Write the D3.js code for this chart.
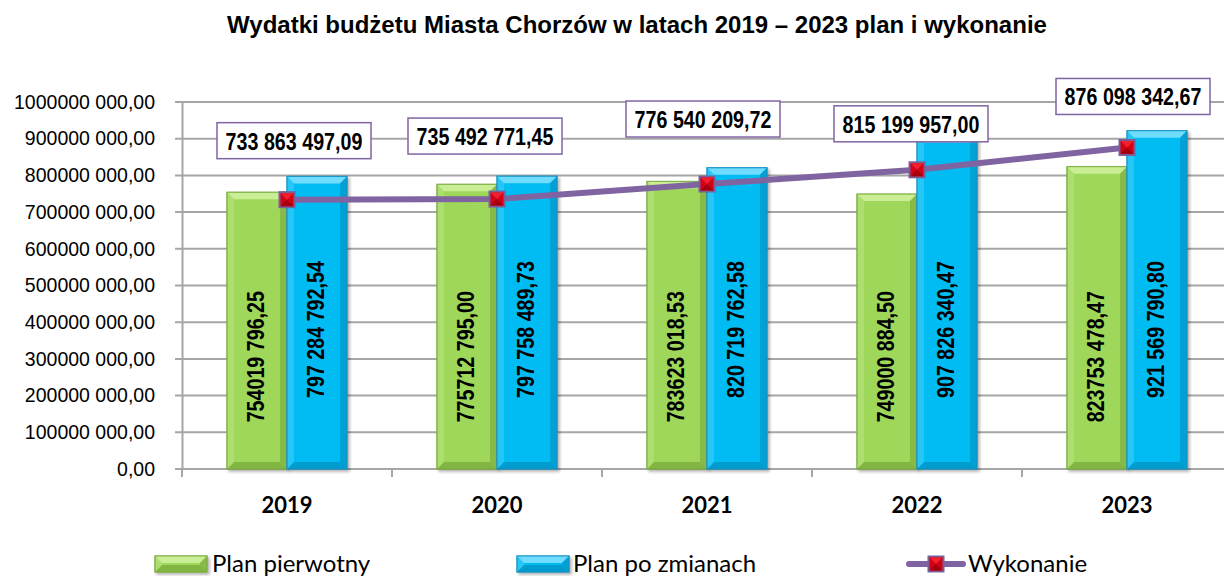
<!DOCTYPE html>
<html>
<head>
<meta charset="utf-8">
<script src="https://cdn.jsdelivr.net/npm/d3@7"></script>
<style>
  body { margin: 0; background: #fff; }
  svg { display: block; }
  .narrow { font-family: "Liberation Sans", Arial, sans-serif; font-weight: bold; }
</style>
</head>
<body>
<div id="chart_box"></div>
<script>

// data
var years = ["2019", "2020", "2021", "2022", "2023"];
var planPierwotny = [754019796.25, 775712795.00, 783623018.53, 749000884.50, 823753478.47];
var planZmiany = [797284792.54, 797758489.73, 820719762.58, 907826340.47, 921569790.80];
var wykonanie = [733863497.09, 735492771.45, 776540209.72, 815199957.00, 876098342.67];
var yTicks = [0, 1e8, 2e8, 3e8, 4e8, 5e8, 6e8, 7e8, 8e8, 9e8, 1e9];
var seriesNames = ["Plan pierwotny", "Plan po zmianach", "Wykonanie"];

// label boxes were dragged by hand in the original, nudge them a bit
var boxNudge = [[7, -59], [-12, -63], [-4, -65], [-6, -46], [6, -51]];

var W = 1224, H = 578;
var plotL = 182, plotR = 1232, plotT = 102, plotB = 469;
var squeeze = 0.82;   // no arial narrow here, so squash the bold face

var svg = d3.select("#chart_box").append("svg")
    .attr("width", W)
    .attr("height", H);

var defs = svg.append("defs");
var shadow = defs.append("filter").attr("id", "shadow")
    .attr("x", "-20%").attr("y", "-20%").attr("width", "140%").attr("height", "140%");
shadow.append("feDropShadow").attr("dx", 2).attr("dy", 2).attr("stdDeviation", 1.5)
    .attr("flood-color", "#000").attr("flood-opacity", 0.3);

var x = d3.scaleBand().domain(years).range([plotL, plotR])
    .paddingInner(90 / 210).paddingOuter(45 / 210);
var xSub = d3.scaleBand().domain([0, 1]).range([0, x.bandwidth()]);
var y = d3.scaleLinear().domain([0, 1e9]).range([plotB, plotT]);

// 754019796.25 -> "754019 796,25"   (only the last group split)
function fmtPlan(v) {
  var s = v.toFixed(2).split(".");
  var i = s[0];
  if (i.length > 3) i = i.slice(0, -3) + " " + i.slice(-3);
  return i + "," + s[1];
}
// 797284792.54 -> "797 284 792,54"
function fmtFull(v) {
  var s = v.toFixed(2).split(".");
  return s[0].replace(/\B(?=(\d{3})+(?!\d))/g, " ") + "," + s[1];
}

// title
svg.append("text")
    .attr("x", 637).attr("y", 33)
    .attr("text-anchor", "middle")
    .style("font-family", "'Liberation Sans', Arial, sans-serif")
    .style("font-weight", "bold")
    .style("font-size", "24px")
    .text("Wydatki budżetu Miasta Chorzów w latach 2019 – 2023 plan i wykonanie");

// grid
svg.append("g").selectAll("line").data(yTicks).enter().append("line")
    .attr("x1", plotL - 7).attr("x2", W)
    .attr("y1", function(d) { return y(d); })
    .attr("y2", function(d) { return y(d); })
    .style("stroke", "#a6a6a6").style("stroke-width", 2);

// y axis
var yAxis = svg.append("g").attr("transform", "translate(" + plotL + ",0)")
    .call(d3.axisLeft(y).tickValues(yTicks).tickFormat(fmtPlan).tickSize(0).tickPadding(27));
yAxis.select(".domain").style("stroke", "#a6a6a6").style("stroke-width", 2);
yAxis.selectAll("text")
    .style("font-family", "'Liberation Sans', Arial, sans-serif")
    .style("font-size", "19.5px")
    .style("fill", "#000");

// x axis
var xAxis = svg.append("g").attr("transform", "translate(0," + plotB + ")");
xAxis.append("line").attr("x1", plotL).attr("x2", W).attr("y1", 0).attr("y2", 0)
    .style("stroke", "#a6a6a6").style("stroke-width", 2);
xAxis.selectAll(".tk").data(years).enter().append("line").attr("class", "tk")
    .attr("x1", function(d) { return x(d) - x.step() * 45 / 210; })
    .attr("x2", function(d) { return x(d) - x.step() * 45 / 210; })
    .attr("y1", 0).attr("y2", 8)
    .style("stroke", "#a6a6a6").style("stroke-width", 2);
xAxis.selectAll(".lbl").data(years).enter().append("text").attr("class", "lbl")
    .attr("x", function(d) { return x(d) + x.bandwidth() / 2; })
    .attr("y", 44)
    .attr("text-anchor", "middle")
    .style("font-family", "Lato, 'Open Sans', sans-serif")
    .style("font-weight", "bold")
    .style("font-size", "22px")
    .text(function(d) { return d; });

// beveled bar, the look of the old excel preset
function bevelBar(g, bx, by, bw, bh, c) {
  var b = 7;
  var grp = g.append("g").attr("filter", "url(#shadow)");
  grp.append("rect").attr("x", bx).attr("y", by).attr("width", bw).attr("height", bh)
      .style("fill", c.base).style("stroke", c.edge).style("stroke-width", 1);
  grp.append("path").attr("d", "M" + bx + "," + by + "L" + (bx + bw) + "," + by + "L" + (bx + bw - b) + "," + (by + b) + "L" + (bx + b) + "," + (by + b) + "Z")
      .style("fill", c.light);
  grp.append("path").attr("d", "M" + (bx + bw) + "," + by + "L" + (bx + bw) + "," + (by + bh) + "L" + (bx + bw - b) + "," + (by + bh - b) + "L" + (bx + bw - b) + "," + (by + b) + "Z")
      .style("fill", c.dark).style("opacity", 0.5);
  grp.append("path").attr("d", "M" + bx + "," + (by + bh) + "L" + (bx + bw) + "," + (by + bh) + "L" + (bx + bw - b) + "," + (by + bh - b) + "L" + (bx + b) + "," + (by + bh - b) + "Z")
      .style("fill", c.dark).style("opacity", 0.6);
  grp.append("path").attr("d", "M" + bx + "," + by + "L" + bx + "," + (by + bh) + "L" + (bx + b) + "," + (by + bh - b) + "L" + (bx + b) + "," + (by + b) + "Z")
      .style("fill", c.light).style("opacity", 0.35);
  grp.append("rect").attr("x", bx).attr("y", by).attr("width", bw).attr("height", bh)
      .style("fill", "none").style("stroke", c.edge).style("stroke-width", 1);
}

var green = { base: "#9fd75a", light: "#c9ee96", dark: "#6f9e32", edge: "#7fae45" };
var blue = { base: "#00bcf2", light: "#6fdcff", dark: "#0086b8", edge: "#1a95c4" };

var bars = svg.append("g");
years.forEach(function(yr, i) {
  var x0 = x(yr);
  bevelBar(bars, x0 + xSub(0), y(planPierwotny[i]), xSub.bandwidth(), plotB - y(planPierwotny[i]), green);
  bevelBar(bars, x0 + xSub(1), y(planZmiany[i]), xSub.bandwidth(), plotB - y(planZmiany[i]), blue);
});

// values written inside the bars
var inBar = svg.append("g").attr("class", "narrow").style("font-size", "24px");
inBar.selectAll(".g").data(planPierwotny).enter().append("text")
    .attr("transform", function(d, i) {
      return "translate(" + (x(years[i]) + xSub(0) + xSub.bandwidth() / 2 + 7) + "," + y(306e6) + ") rotate(-90) scale(" + squeeze + ",1)";
    })
    .attr("text-anchor", "middle")
    .text(fmtPlan);
inBar.selectAll(".b").data(planZmiany).enter().append("text")
    .attr("transform", function(d, i) {
      return "translate(" + (x(years[i]) + xSub(1) + xSub.bandwidth() / 2 + 7) + "," + y(380e6) + ") rotate(-90) scale(" + squeeze + ",1)";
    })
    .attr("text-anchor", "middle")
    .text(fmtFull);

// wykonanie line
var cx = function(i) { return x(years[i]) + x.bandwidth() / 2; };
var line = d3.line().x(function(d, i) { return cx(i); }).y(function(d) { return y(d); });
svg.append("path").datum(wykonanie)
    .attr("d", line)
    .style("fill", "none").style("stroke", "#8064a2").style("stroke-width", 6);

function marker(g, mx, my) {
  var s = 7.5;
  g.append("rect").attr("x", mx - s).attr("y", my - s).attr("width", 2 * s).attr("height", 2 * s)
      .style("fill", "#d40014").style("stroke", "#7a5f99").style("stroke-width", 2);
  g.append("path").attr("d", "M" + (mx - s + 1) + "," + (my - s + 1) + "L" + mx + "," + my + "L" + (mx + s - 1) + "," + (my - s + 1) + "Z")
      .style("fill", "#f0202c");
  g.append("path").attr("d", "M" + (mx - s + 1) + "," + (my + s - 1) + "L" + mx + "," + my + "L" + (mx + s - 1) + "," + (my + s - 1) + "Z")
      .style("fill", "#a3000f");
}
var marks = svg.append("g");
wykonanie.forEach(function(v, i) { marker(marks, cx(i), y(v)); });

// boxed value labels
var boxes = svg.append("g");
wykonanie.forEach(function(v, i) {
  var bx = cx(i) + boxNudge[i][0], by = y(v) + boxNudge[i][1];
  boxes.append("rect")
      .attr("x", bx - 77).attr("y", by - 18).attr("width", 154).attr("height", 36)
      .style("fill", "#fff").style("stroke", "#8064a2").style("stroke-width", 1.5);
  boxes.append("text").attr("class", "narrow")
      .attr("transform", "translate(" + bx + "," + (by + 9) + ") scale(" + squeeze + ",1)")
      .attr("text-anchor", "middle")
      .style("font-size", "24px")
      .text(fmtFull(v));
});

// legend
var legend = svg.append("g").style("font-family", "Lato, 'Open Sans', sans-serif").style("font-size", "24px");
bevelBar(legend, 155, 556, 52, 16, green);
legend.append("text").attr("x", 212).attr("y", 572).text(seriesNames[0]);
bevelBar(legend, 517, 556, 52, 16, blue);
legend.append("text").attr("x", 573).attr("y", 572).text(seriesNames[1]);
legend.append("line").attr("x1", 909).attr("x2", 963).attr("y1", 564).attr("y2", 564)
    .style("stroke", "#8064a2").style("stroke-width", 6).style("stroke-linecap", "round");
marker(legend, 936, 564);
legend.append("text").attr("x", 968).attr("y", 572).text(seriesNames[2]);

</script>
</body>
</html>
